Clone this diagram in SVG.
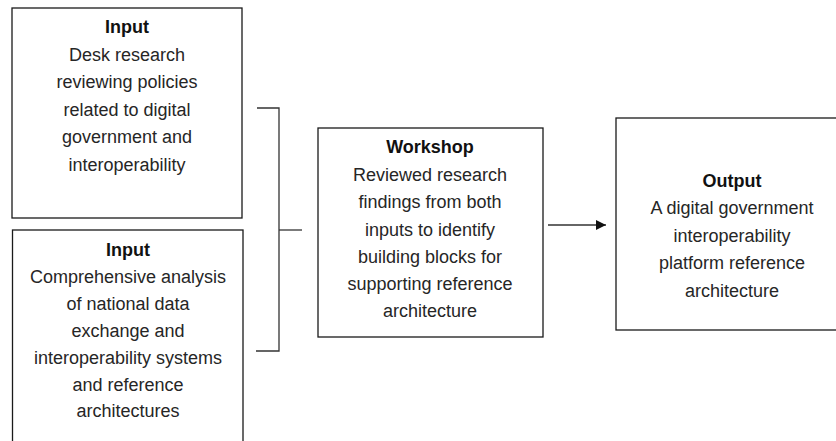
<svg xmlns="http://www.w3.org/2000/svg" width="836" height="441" viewBox="0 0 836 441">
  <style>
    .box { fill: #ffffff; stroke: #1a1a1a; stroke-width: 1.3; }
    .t { font-family: "Liberation Sans", Arial, sans-serif; font-size: 18px; fill: #262626; text-anchor: middle; }
    .h { font-weight: bold; fill: #111111; }
    .wire { fill: none; stroke: #333333; stroke-width: 1.3; }
  </style>
  <defs>
    <marker id="arrow" viewBox="0 0 10 10" refX="10" refY="5" markerWidth="10" markerHeight="10" markerUnits="userSpaceOnUse" orient="auto">
      <path d="M0,0 L10,5 L0,10 Z" fill="#111111"/>
    </marker>
  </defs>
  <rect width="836" height="441" fill="#ffffff"/>

  <g id="connectors">
    <!-- bracket joining both inputs -->
    <path class="wire" d="M257,108 H279 V351 H256"/>
    <path class="wire" d="M279,230 H302"/>
    <!-- workshop to output -->
    <path class="wire" d="M548,225 H606" marker-end="url(#arrow)"/>
  </g>

  <g id="input-desk">
    <rect class="box" x="12" y="8" width="230" height="210"/>
    <text class="t h" x="127" y="33">Input</text>
    <text class="t" x="127" y="61">Desk research</text>
    <text class="t" x="127" y="88">reviewing policies</text>
    <text class="t" x="127" y="116">related to digital</text>
    <text class="t" x="127" y="143">government and</text>
    <text class="t" x="127" y="171">interoperability</text>
  </g>

  <g id="input-analysis">
    <rect class="box" x="12.5" y="230" width="230.5" height="230"/>
    <text class="t h" x="128" y="256">Input</text>
    <text class="t" x="128" y="283">Comprehensive analysis</text>
    <text class="t" x="128" y="310">of national data</text>
    <text class="t" x="128" y="337">exchange and</text>
    <text class="t" x="128" y="364">interoperability systems</text>
    <text class="t" x="128" y="391">and reference</text>
    <text class="t" x="128" y="417">architectures</text>
  </g>

  <g id="workshop">
    <rect class="box" x="318" y="128" width="225" height="209"/>
    <text class="t h" x="430" y="153">Workshop</text>
    <text class="t" x="430" y="181">Reviewed research</text>
    <text class="t" x="430" y="208">findings from both</text>
    <text class="t" x="430" y="236">inputs to identify</text>
    <text class="t" x="430" y="263">building blocks for</text>
    <text class="t" x="430" y="290">supporting reference</text>
    <text class="t" x="430" y="317">architecture</text>
  </g>

  <g id="output">
    <rect class="box" x="616" y="118" width="232" height="212"/>
    <text class="t h" x="732" y="187">Output</text>
    <text class="t" x="732" y="214">A digital government</text>
    <text class="t" x="732" y="242">interoperability</text>
    <text class="t" x="732" y="269">platform reference</text>
    <text class="t" x="732" y="297">architecture</text>
  </g>
</svg>
